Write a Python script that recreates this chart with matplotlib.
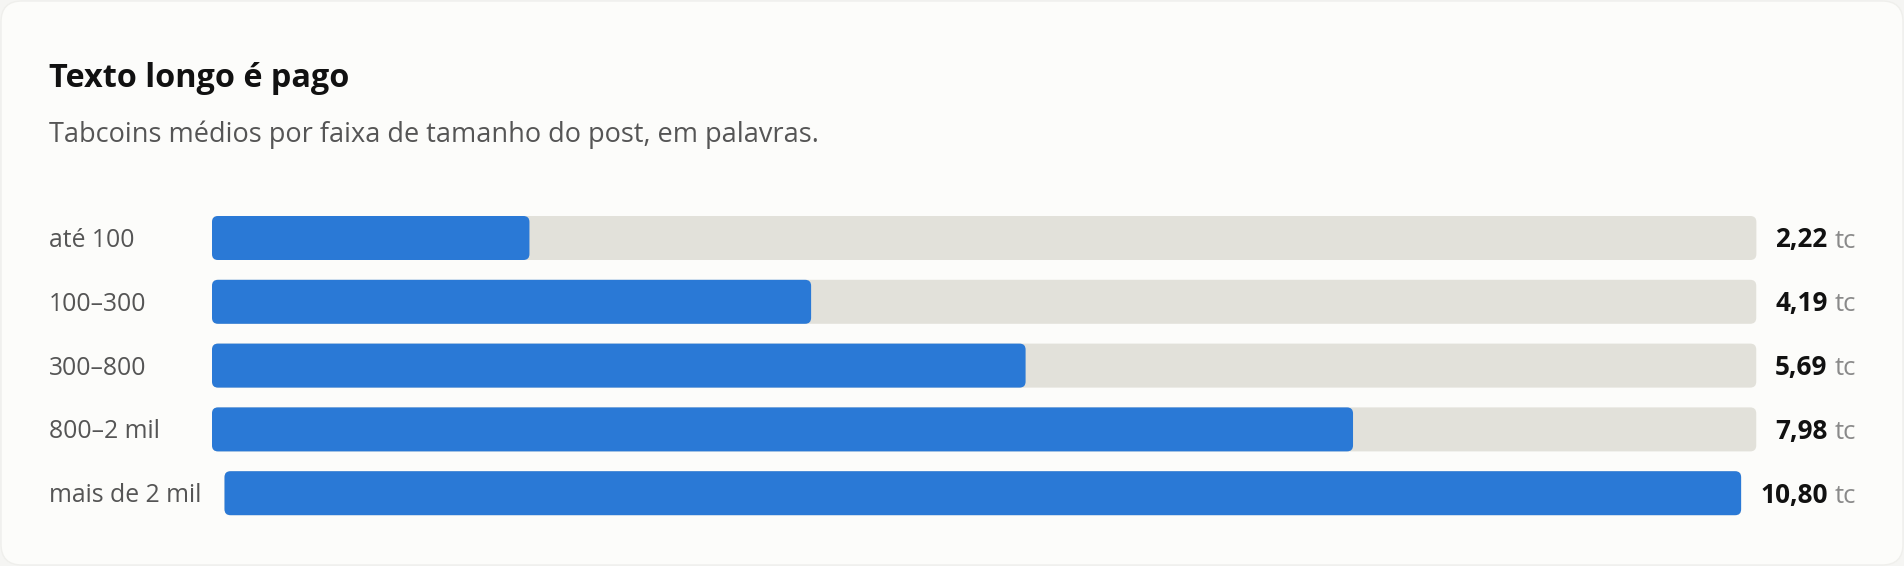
import matplotlib
matplotlib.use("Agg")
import matplotlib.pyplot as plt
from matplotlib.patches import FancyBboxPatch

# Noto Sans here has no bold face; Open Sans is nearly the same design
plt.rcParams['font.family'] = ['Open Sans', 'DejaVu Sans']

categories = ['até 100', '100–300', '300–800', '800–2 mil', 'mais de 2 mil']
values = [2.22, 4.19, 5.69, 7.98, 10.80]
value_labels = ['2,22', '4,19', '5,69', '7,98', '10,80']
unit = 'tc'
title = 'Texto longo é pago'
subtitle = 'Tabcoins médios por faixa de tamanho do post, em palavras.'

W, H = 1904, 566
BLUE = '#2a79d6'
TRACK = '#e2e1da'

fig = plt.figure(figsize=(W / 100, H / 100), dpi=100)
fig.patch.set_facecolor('#f5f5f3')

# card background
card = FancyBboxPatch((1 / W, 1 / H), 1 - 2 / W, 1 - 2 / H,
                      boxstyle='round,pad=0,rounding_size=0.011',
                      mutation_aspect=W / H,
                      transform=fig.transFigure, facecolor='#fcfcfa',
                      edgecolor='#efefec', linewidth=1, zorder=-1)
fig.patches.append(card)


def px(x, y):
    # pixel coords (top-left origin) -> figure fraction
    return x / W, 1 - y / H


fig.text(*px(49, 87), title, fontsize=23.3, fontweight='bold', color='#111111',
         va='baseline', ha='left')
fig.text(*px(49, 142), subtitle, fontsize=19.55, color='#555555',
         va='baseline', ha='left')

renderer = fig.canvas.get_renderer()

row_y0 = 238
row_step = 63.8
bar_h = 44
radius = 6
value_right = 1856
label_x = 49
min_track_left = 212

for i, (cat, val, lab) in enumerate(zip(categories, values, value_labels)):
    yc = row_y0 + i * row_step
    t_lab = fig.text(*px(label_x, yc + 9), cat, fontsize=17.8, color='#555555',
                     va='baseline', ha='left')
    t_unit = fig.text(*px(value_right, yc + 9.5), unit, fontsize=18.5,
                      color='#8a8a8a', va='baseline', ha='right')
    t_val = fig.text(0, 0, lab, fontsize=18.8, fontweight='bold', color='#111111',
                     va='baseline', ha='right')
    # place number just left of the unit
    ub = t_unit.get_window_extent(renderer)
    t_val.set_position(((ub.x0 - 7) / W, 1 - (yc + 9.5) / H))
    vb = t_val.get_window_extent(renderer)
    lb = t_lab.get_window_extent(renderer)

    left = max(min_track_left, lb.x1 + 23)
    right = vb.x0 - 19
    aw = right - left
    ax = fig.add_axes([left / W, 1 - (yc + bar_h / 2) / H, aw / W, bar_h / H])
    ax.set_xlim(0, max(values))
    ax.set_ylim(0, 1)
    ax.axis('off')
    rx = radius * max(values) / aw
    ry = radius / bar_h
    track = FancyBboxPatch((0, 0), max(values), 1,
                           boxstyle=f'round,pad=0,rounding_size={rx}',
                           mutation_aspect=ry / rx, facecolor=TRACK,
                           edgecolor='none', clip_on=False)
    ax.add_patch(track)
    bar = FancyBboxPatch((0, 0), val, 1,
                         boxstyle=f'round,pad=0,rounding_size={rx}',
                         mutation_aspect=ry / rx, facecolor=BLUE,
                         edgecolor='none', clip_on=False)
    ax.add_patch(bar)

fig.savefig('out.png', dpi=100, facecolor=fig.get_facecolor())
